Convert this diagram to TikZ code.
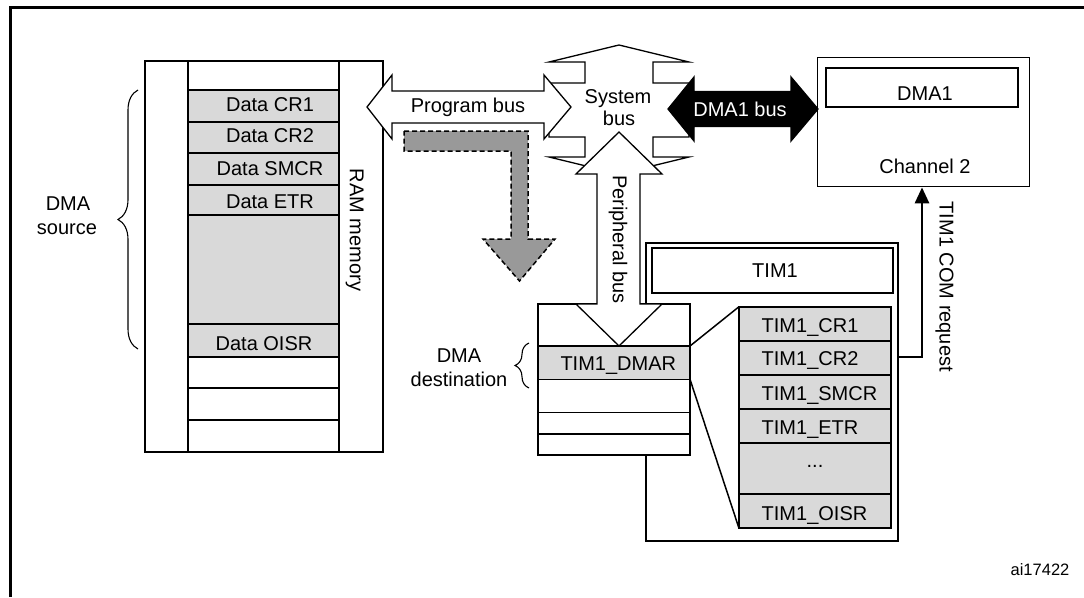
\documentclass[tikz,border=0pt]{standalone}
\usepackage{fontspec}
\setmainfont{Liberation Sans}
\usetikzlibrary{decorations.pathreplacing,arrows.meta}
\definecolor{cellgray}{HTML}{D9D9D9}
\definecolor{arrowgray}{HTML}{999999}
\begin{document}
\begin{tikzpicture}[x=1pt,y=-1pt,
  font=\fontsize{20}{24}\selectfont,
  thinline/.style={line width=1.3pt},
  cell/.style={draw, line width=1.8pt, inner sep=0pt, outer sep=0pt, minimum width=151pt},
  gcell/.style={cell, fill=cellgray},
  wcell/.style={cell, fill=white},
  mcell/.style={draw, line width=1.5pt, inner sep=0pt, outer sep=0pt, minimum width=152pt},
  tcell/.style={draw, line width=1.8pt, inner sep=0pt, outer sep=0pt, minimum width=151.7pt, fill=cellgray},
  lbl/.style={inner sep=0pt, outer sep=0pt, text height=14.3pt, text depth=0pt},
  bus/.style={draw, line width=1.3pt, line join=miter, fill=white},
  brc/.style={decorate, line width=1.1pt},
]
\useasboundingbox (0,0) rectangle (1084,597);
% outer frame
\draw[line width=3pt] (10.5,597) -- (10.5,7) -- (1084,7);

% RAM memory
\node[draw, thinline, minimum width=238pt, minimum height=391pt, inner sep=0pt] (ram) at (264,256.5) {};
\node[wcell, minimum height=29pt] (r0) at (263.5,75.5) {};
\node[gcell, minimum height=32pt] (r1) at (263.5,106) {};
\node[gcell, minimum height=31pt] (r2) at (263.5,137.5) {};
\node[gcell, minimum height=32pt] (r3) at (263.5,169) {};
\node[gcell, minimum height=30pt] (r4) at (263.5,200) {};
\node[gcell, minimum height=109pt] (r5) at (263.5,269.5) {};
\node[gcell, minimum height=33pt] (r6) at (263.5,340.5) {};
\node[wcell, minimum height=31pt] (r7) at (263.5,372.5) {};
\node[wcell, minimum height=32pt] (r8) at (263.5,404) {};
\node[wcell, minimum height=32pt] (r9) at (263.5,436) {};
\node[lbl] (lcr1) at (270,104.5) {Data CR1};
\node[lbl] (lcr2) at (270,135) {Data CR2};
\node[lbl] (lsmcr) at (270,168.3) {Data SMCR};
\node[lbl] (letr) at (270,201.7) {Data ETR};
\node[lbl] (loisr) at (264,343.3) {Data OISR};
\node[lbl, rotate=-90] (lram) at (357,230) {RAM memory};

% DMA source brace
\draw[brc, decoration={brace, amplitude=20pt}] (138,349) -- (138,90);
\node[lbl] (dmasrc1) at (68,203.7) {DMA};
\node[lbl] (dmasrc2) at (67,227.1) {source};

% system bus
\draw[bus] (619,45) -- (689,62) -- (653,62) -- (653,83) -- (689,83) -- (689,137) -- (653,137) -- (653,157) -- (689,157) -- (619,174) -- (549,157) -- (585,157) -- (585,137) -- (549,137) -- (549,83) -- (585,83) -- (585,62) -- (549,62) -- cycle;
\node[lbl] (lsys1) at (618,96) {System};
\node[lbl] (lsys2) at (619,118.5) {bus};

% program bus
\draw[bus] (367,107) -- (392,75) -- (392,91) -- (544,91) -- (544,75) -- (571,107) -- (544,139) -- (544,123) -- (392,123) -- (392,139) -- cycle;
\node[lbl] (lprog) at (468,105.5) {Program bus};

% DMA1 bus
\draw[line width=1.3pt, fill=black] (668,109) -- (694,77) -- (694,91.5) -- (791,91.5) -- (791,77) -- (818,109) -- (791,141) -- (791,126.5) -- (694,126.5) -- (694,141) -- cycle;
\node[lbl, text=white] (ldmabus) at (740,109) {DMA1 bus};

% dashed grey arrow
\draw[fill=arrowgray, line width=1.5pt, dash pattern=on 5pt off 3pt] (404,131) -- (528,131) -- (528,239) -- (555,239) -- (519.5,281) -- (483,239) -- (511,239) -- (511,151) -- (404,151) -- cycle;

% TIM1 container
\node[draw, thinline, minimum width=252pt, minimum height=298pt, inner sep=0pt] (tim1cont) at (772,392) {};
\node[draw, line width=1.8pt, minimum width=241.6pt, minimum height=45pt, inner sep=0pt] (tim1box) at (772.5,270.8) {};
\node[lbl] (ltim1) at (775,270.8) {TIM1};

% peripheral memory block
\node[mcell, fill=white, minimum height=42pt] (m0) at (614,325) {};
\node[mcell, fill=cellgray, minimum height=33.3pt] (m1) at (614,362.65) {};
\node[mcell, fill=white, minimum height=33pt] (m2) at (614,395.8) {};
\node[mcell, fill=white, minimum height=21.7pt] (m3) at (614,423.15) {};
\node[mcell, fill=white, minimum height=21pt] (m4) at (614,444.5) {};
\node[lbl] (ldmar) at (618.3,363.8) {TIM1\_DMAR};

% peripheral bus
\draw[bus] (619,132) -- (662,174) -- (640,174) -- (640,304) -- (662,304) -- (619,346) -- (576,304) -- (597,304) -- (597,174) -- (576,174) -- cycle;
\node[lbl, rotate=-90] (lper) at (620,239.5) {Peripheral bus};

% DMA destination
\draw[brc, decoration={brace, amplitude=14pt}] (529,388) -- (529,343);
\node[lbl] (dmadst1) at (459,355.8) {DMA};
\node[lbl] (dmadst2) at (459,379.5) {destination};

% TIM1 register table
\node[tcell, minimum height=34pt] (t1) at (814.85,323.7) {};
\node[tcell, minimum height=34.3pt] (t2) at (814.85,357.85) {};
\node[tcell, minimum height=34pt] (t3) at (814.85,392) {};
\node[tcell, minimum height=34.3pt] (t4) at (814.85,426.15) {};
\node[tcell, minimum height=50.7pt] (t5) at (814.85,468.65) {};
\node[tcell, minimum height=34.3pt] (t6) at (814.85,511.15) {};
\node[lbl, anchor=west] (lt1) at (761.7,325.3) {TIM1\_CR1};
\node[lbl, anchor=west] (lt2) at (761.7,358.8) {TIM1\_CR2};
\node[lbl, anchor=west] (lt3) at (761.7,393.7) {TIM1\_SMCR};
\node[lbl, anchor=west] (lt4) at (761.7,427) {TIM1\_ETR};
\node[inner sep=0pt, anchor=base] (lt5) at (815,467) {...};
\node[lbl, anchor=west] (lt6) at (761.7,513) {TIM1\_OISR};

% zoom lines
\draw[line width=1.5pt] (m1.north east) -- (t1.north west);
\draw[line width=1.5pt] (m1.south east) -- (t6.south west);

% DMA1
\node[draw, thinline, minimum width=212pt, minimum height=129.4pt, inner sep=0pt] (dma1) at (923.3,122) {};
\node[draw, line width=1.8pt, minimum width=192pt, minimum height=39pt, inner sep=0pt] (dma1in) at (921.7,87.8) {};
\node[lbl] (ldma1) at (925,93.5) {DMA1};
\node[lbl] (lch2) at (925,166.7) {Channel 2};

% TIM1 COM request
\coordinate (comB) at (922,357);
\draw[line width=2.8pt, -{Triangle[length=16pt,width=14pt]}] (tim1cont.east |- comB) -- (comB) -- (comB |- dma1.south);
\node[lbl, rotate=-90] (lcom) at (946.7,286.7) {TIM1 COM request};

% figure id
\node[lbl, font=\fontsize{16.5}{20}\selectfont, text height=11.8pt] (aiid) at (1040,569.7) {ai17422};
\end{tikzpicture}
\end{document}
